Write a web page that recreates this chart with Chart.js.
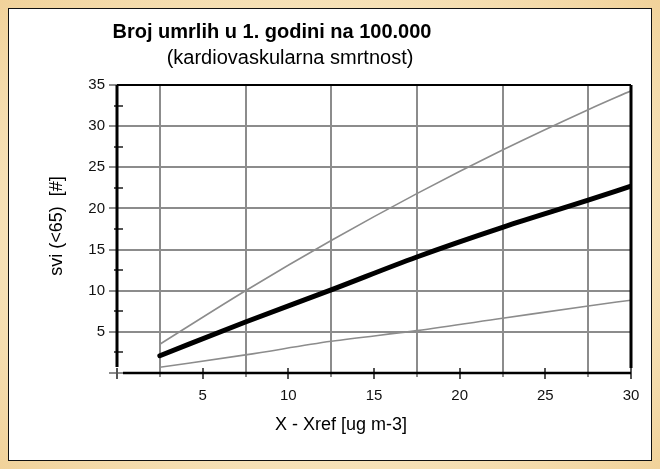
<!DOCTYPE html>
<html>
<head>
<meta charset="utf-8">
<script src="https://cdn.jsdelivr.net/npm/chart.js@4/dist/chart.umd.min.js"></script>
<style>
  html, body { margin: 0; padding: 0; }
  body {
    width: 660px; height: 469px; overflow: hidden; position: relative;
    background: radial-gradient(ellipse at 50% 50%, #fdf3dc 0%, #f8e6c0 60%, #f1d29a 100%);
  }
  #panel {
    position: absolute; left: 8px; top: 8px; width: 642px; height: 451px;
    background: #fff; border: 1.5px solid #111;
  }
  #wrap { position: absolute; left: 0; top: 0; width: 660px; height: 469px; }
</style>
</head>
<body>
<div id="panel"></div>
<div id="wrap"><canvas id="c" width="660" height="469"></canvas></div>
<script>
// x positions (ug m-3) where the curves were read
const xValues     = [2.5, 7.5, 12.5, 17.5, 22.5, 27.5, 30];
const meanValues  = [2.1, 6.2, 10.1, 14.1, 17.7, 21.0, 22.7];
const upperValues = [3.5, 10.0, 16.1, 21.8, 27.1, 32.0, 34.3];
const lowerValues = [0.7, 2.2, 3.85, 5.15, 6.65, 8.15, 8.85];

const title     = 'Broj umrlih u 1. godini na 100.000';
const subtitle  = '(kardiovaskularna smrtnost)';
const xTitle    = 'X - Xref [ug m-3]';
const yTitle    = 'svi (<65)  [#]';

const FONT = 'Arial, "Liberation Sans", sans-serif';
const GRID = '#8c8c8c';

const pts = vals => xValues.map((x, i) => ({ x, y: vals[i] }));
const isMajor = v => Math.abs(v % 5) < 1e-6;

const frame = {
  id: 'frame',
  afterDatasetsDraw(chart) {
    const { ctx, chartArea: a, scales: { x, y } } = chart;
    ctx.save();
    // minor ticks crossing the axes
    ctx.strokeStyle = '#555';
    ctx.lineWidth = 2;
    for (let v = 2.5; v < 35; v += 5) {
      const py = Math.round(y.getPixelForValue(v));
      ctx.beginPath(); ctx.moveTo(a.left - 3, py); ctx.lineTo(a.left + 6, py); ctx.stroke();
    }
    for (let v = 0; v <= 30; v += 5) {
      const px = Math.round(x.getPixelForValue(v));
      ctx.beginPath(); ctx.moveTo(px, a.bottom - 5); ctx.lineTo(px, a.bottom + 6); ctx.stroke();
    }
    // frame lines
    ctx.strokeStyle = '#000';
    ctx.lineWidth = 2;
    ctx.beginPath(); ctx.moveTo(a.left, a.top); ctx.lineTo(a.right, a.top); ctx.stroke();
    ctx.lineWidth = 2.5;
    ctx.beginPath(); ctx.moveTo(a.left + 6, a.bottom); ctx.lineTo(a.right, a.bottom); ctx.stroke();
    ctx.lineWidth = 3;
    ctx.beginPath(); ctx.moveTo(a.left, a.top); ctx.lineTo(a.left, a.bottom - 6); ctx.stroke();
    ctx.beginPath(); ctx.moveTo(a.right, a.top); ctx.lineTo(a.right, a.bottom - 5); ctx.stroke();

    // titles
    ctx.fillStyle = '#000';
    ctx.textAlign = 'center';
    ctx.textBaseline = 'alphabetic';
    ctx.font = 'bold 20px ' + FONT;
    ctx.fillText(title, 272, 38);
    ctx.font = '20px ' + FONT;
    ctx.fillText(subtitle, 290, 64);
    ctx.font = '18px ' + FONT;
    ctx.fillText(xTitle, 341, 430);
    ctx.save();
    ctx.translate(57, 226);
    ctx.rotate(-Math.PI / 2);
    ctx.textBaseline = 'middle';
    ctx.fillText(yTitle, 0, 0);
    ctx.restore();
    ctx.restore();
  }
};

Chart.defaults.font.family = FONT;
Chart.defaults.color = '#111';

new Chart(document.getElementById('c'), {
  type: 'line',
  data: {
    datasets: [
      { label: 'srednja', data: pts(meanValues), borderColor: '#000', borderWidth: 5,
        borderCapStyle: 'round', borderJoinStyle: 'round', order: 0 },
      { label: 'gornja', data: pts(upperValues), borderColor: '#8c8c8c', borderWidth: 1.6, order: 1 },
      { label: 'donja', data: pts(lowerValues), borderColor: '#8c8c8c', borderWidth: 1.6, order: 2 },
    ],
  },
  options: {
    responsive: false,
    animation: false,
    layout: { padding: { left: 0, top: 85, right: 29, bottom: 0 } },
    elements: { point: { radius: 0 }, line: { cubicInterpolationMode: 'monotone', fill: false } },
    plugins: { legend: { display: false }, tooltip: { enabled: false } },
    scales: {
      x: {
        type: 'linear', min: 0, max: 30,
        afterFit: s => { s.height = 96; },
        border: { display: false },
        grid: {
          color: c => (c.tick && !isMajor(c.tick.value)) ? GRID : 'rgba(0,0,0,0)',
          lineWidth: 2, tickLength: 4,
        },
        ticks: {
          stepSize: 2.5, autoSkip: false, maxRotation: 0, padding: 10,
          font: { size: 15 },
          callback: v => (isMajor(v) && v !== 0) ? v : '',
        },
      },
      y: {
        min: 0, max: 35,
        afterFit: s => { s.width = 117; },
        border: { display: false },
        grid: {
          color: c => (c.tick && isMajor(c.tick.value)) ? GRID : 'rgba(0,0,0,0)',
          lineWidth: 2, tickLength: 8,
        },
        ticks: {
          stepSize: 2.5, autoSkip: false, padding: 4,
          font: { size: 15 },
          callback: v => (isMajor(v) && v !== 0) ? v : '',
        },
      },
    },
  },
  plugins: [frame],
});
</script>
</body>
</html>
